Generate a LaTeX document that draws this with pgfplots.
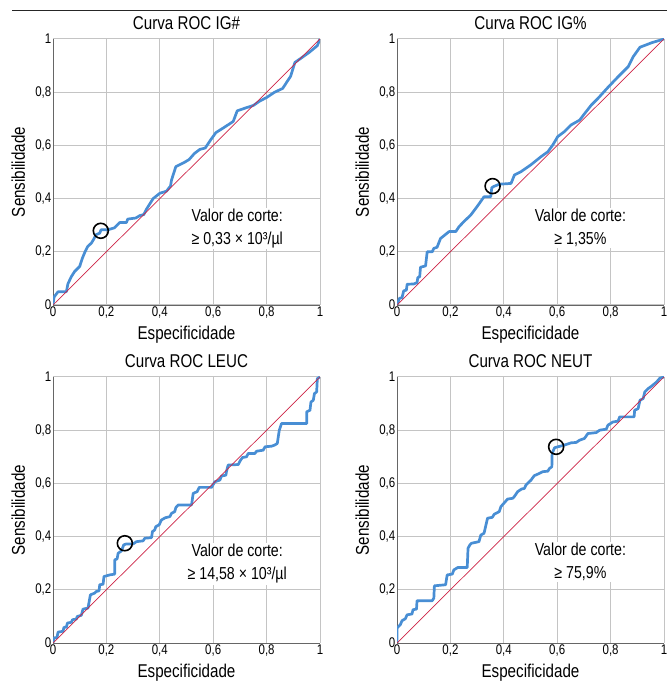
\documentclass[border=0pt]{standalone}
\usepackage{fontspec}
\setmainfont{Liberation Sans}[FakeStretch=0.82]
\usepackage{pgfplots}
\pgfplotsset{compat=1.18}

\definecolor{rocblue}{RGB}{72,142,212}
\definecolor{refred}{RGB}{205,35,70}
\definecolor{gridgray}{RGB}{196,196,196}

\tikzset{corte/.style={fill=white, align=center, inner sep=1pt, font=\fontsize{17.3}{23}\selectfont}}

\pgfplotsset{
  roc/.style={
    scale only axis, width=267pt, height=266pt,
    xmin=0, xmax=1, ymin=0, ymax=1,
    xtick={0,0.2,0.4,0.6,0.8,1}, ytick={0,0.2,0.4,0.6,0.8,1},
    axis lines=left,
    axis line style={-, draw=black!60, line width=0.9pt},
    grid=major,
    major grid style={gridgray, line width=1pt},
    major tick length=0pt,
    /pgf/number format/use comma,
    /pgf/number format/assume math mode=true,
    tick label style={font=\fontsize{14}{15}\selectfont, inner sep=1.5pt},
    title style={at={(axis description cs:0.5,1.015)}, anchor=base,
      font=\fontsize{18.5}{20}\selectfont},
    xlabel style={at={(axis description cs:0.5,-0.128)}, anchor=base,
      font=\fontsize{18.5}{20}\selectfont},
    ylabel style={at={(axis description cs:-0.105,0.5)}, anchor=base,
      font=\fontsize{18.5}{20}\selectfont},
    xlabel={Especificidade}, ylabel={Sensibilidade},
  },
  curve/.style={rocblue, line width=2.7pt, line join=round},
  diag/.style={refred, line width=0.7pt},
  cut/.style={only marks, mark=o, mark size=7.5pt, black, mark options={line width=1.6pt}},
}

\begin{document}
\begin{tikzpicture}
\path[use as bounding box] (0pt,0pt) rectangle (667pt,682pt);
\draw[line width=1.4pt, black!85] (12pt,671.3pt) -- (667pt,671.3pt);

% IG#
\begin{axis}[roc, at={(53pt,377pt)}, anchor=south west, title={Curva ROC IG\#}]
\addplot[curve] coordinates {
(0,0) (0.004,0.03) (0.019,0.05) (0.05,0.05) (0.056,0.08) (0.069,0.107)
(0.081,0.126) (0.1,0.145) (0.11,0.176) (0.12,0.2) (0.13,0.22) (0.144,0.233)
(0.154,0.25) (0.16,0.264) (0.175,0.27) (0.18,0.283) (0.206,0.283) (0.23,0.29)
(0.25,0.31) (0.275,0.31) (0.28,0.323) (0.31,0.327) (0.325,0.336) (0.34,0.34)
(0.35,0.36) (0.375,0.40) (0.4,0.42) (0.425,0.428) (0.44,0.447) (0.444,0.47)
(0.46,0.52) (0.49,0.535) (0.51,0.547) (0.53,0.57) (0.55,0.585) (0.57,0.59)
(0.59,0.62) (0.61,0.648) (0.64,0.667) (0.675,0.69) (0.69,0.73) (0.725,0.742)
(0.75,0.75) (0.775,0.767) (0.8,0.78) (0.83,0.8) (0.86,0.814) (0.89,0.86)
(0.906,0.912) (0.925,0.925) (0.96,0.95) (0.99,0.975) (1,1)
};
\addplot[diag] coordinates {(0,0) (1,1)};
\addplot[cut] coordinates {(0.179,0.279)};
\node[corte] at (axis cs:0.69,0.289) {Valor de corte:\\≥ 0,33 × 10³/µl};
\end{axis}

% IG%
\begin{axis}[roc, at={(397pt,377pt)}, anchor=south west, title={Curva ROC IG\%}]
\addplot[curve] coordinates {
(0,0) (0.009,0.025) (0.019,0.028) (0.025,0.053) (0.035,0.056) (0.038,0.078)
(0.063,0.079) (0.075,0.084) (0.078,0.103) (0.085,0.106) (0.088,0.142)
(0.107,0.147) (0.113,0.2) (0.132,0.2) (0.138,0.213) (0.15,0.217) (0.163,0.25)
(0.195,0.276) (0.22,0.276) (0.232,0.294) (0.25,0.313) (0.276,0.338) (0.3,0.37)
(0.326,0.407) (0.351,0.407) (0.355,0.441) (0.361,0.445) (0.383,0.454)
(0.427,0.457) (0.44,0.489) (0.464,0.501) (0.5,0.526) (0.54,0.558) (0.565,0.576)
(0.583,0.601) (0.602,0.633) (0.627,0.652) (0.652,0.677) (0.684,0.695)
(0.703,0.72) (0.728,0.752) (0.753,0.777) (0.79,0.818) (0.828,0.858)
(0.866,0.896) (0.885,0.934) (0.91,0.969) (0.954,0.986) (1,1)
};
\addplot[diag] coordinates {(0,0) (1,1)};
\addplot[cut] coordinates {(0.358,0.447)};
\node[corte] at (axis cs:0.687,0.289) {Valor de corte:\\≥ 1,35\%};
\end{axis}

% LEUC
\begin{axis}[roc, at={(53pt,39pt)}, anchor=south west, title={Curva ROC LEUC}]
\addplot[curve] coordinates {
(0,0) (0.004,0.019) (0.015,0.021) (0.019,0.041) (0.0375,0.044) (0.041,0.059)
(0.05,0.059) (0.054,0.075) (0.069,0.078) (0.073,0.0875) (0.0875,0.09)
(0.091,0.1) (0.106,0.104) (0.1125,0.1275) (0.131,0.131) (0.14,0.181)
(0.156,0.1875) (0.1625,0.194) (0.1725,0.196) (0.175,0.219) (0.1875,0.221)
(0.191,0.25) (0.2125,0.256) (0.231,0.259) (0.231,0.3125) (0.24,0.316)
(0.244,0.3375) (0.256,0.346) (0.265,0.369) (0.275,0.3725) (0.3,0.3725)
(0.3125,0.381) (0.3375,0.384) (0.344,0.394) (0.369,0.396) (0.3725,0.419)
(0.381,0.425) (0.385,0.4375) (0.3975,0.444) (0.406,0.4625) (0.421,0.471)
(0.4375,0.475) (0.444,0.4875) (0.456,0.494) (0.46,0.509) (0.469,0.519)
(0.519,0.519) (0.525,0.5625) (0.54,0.569) (0.5475,0.585) (0.594,0.585)
(0.6,0.596) (0.606,0.606) (0.625,0.6125) (0.631,0.6275) (0.6475,0.631)
(0.65,0.646) (0.656,0.669) (0.694,0.671) (0.7025,0.6875) (0.71,0.6975)
(0.725,0.7) (0.731,0.7125) (0.756,0.7125) (0.7625,0.721) (0.7875,0.725)
(0.794,0.7375) (0.819,0.74) (0.83,0.744) (0.84,0.75) (0.8475,0.8)
(0.856,0.825) (0.95,0.825) (0.95,0.869) (0.9625,0.875) (0.966,0.906)
(0.975,0.9125) (0.979,0.9375) (0.9875,0.944) (0.99,0.994) (1,1)
};
\addplot[diag] coordinates {(0,0) (1,1)};
\addplot[cut] coordinates {(0.269,0.375)};
\node[corte] at (axis cs:0.69,0.297) {Valor de corte:\\≥ 14,58 × 10³/µl};
\end{axis}

% NEUT
\begin{axis}[roc, at={(397pt,39pt)}, anchor=south west, title={Curva ROC NEUT}]
\addplot[curve] coordinates {
(0,0) (0,0.056) (0.0125,0.069) (0.019,0.084) (0.031,0.091) (0.038,0.106)
(0.056,0.109) (0.06,0.125) (0.073,0.1275) (0.075,0.159) (0.132,0.159)
(0.138,0.169) (0.14,0.215) (0.182,0.219) (0.188,0.256) (0.207,0.259)
(0.213,0.275) (0.228,0.284) (0.263,0.284) (0.266,0.356) (0.273,0.369)
(0.279,0.375) (0.307,0.381) (0.314,0.406) (0.326,0.4125) (0.339,0.469)
(0.357,0.4725) (0.364,0.484) (0.383,0.494) (0.389,0.5125) (0.4,0.525)
(0.414,0.541) (0.433,0.544) (0.439,0.55) (0.452,0.569) (0.467,0.579)
(0.477,0.581) (0.483,0.594) (0.502,0.6125) (0.514,0.629) (0.533,0.6375)
(0.546,0.644) (0.565,0.646) (0.571,0.656) (0.58,0.6625) (0.581,0.7125)
(0.59,0.734) (0.602,0.7375) (0.627,0.744) (0.652,0.7525) (0.671,0.754)
(0.684,0.7625) (0.702,0.769) (0.715,0.7875) (0.746,0.791) (0.759,0.8)
(0.784,0.804) (0.79,0.819) (0.809,0.831) (0.828,0.834) (0.834,0.85)
(0.888,0.85) (0.89,0.875) (0.903,0.881) (0.91,0.9125) (0.922,0.919)
(0.928,0.944) (0.94,0.956) (0.954,0.966) (0.972,0.981) (0.985,0.996) (1,1)
};
\addplot[diag] coordinates {(0,0) (1,1)};
\addplot[cut] coordinates {(0.596,0.7375)};
\node[corte] at (axis cs:0.687,0.305) {Valor de corte:\\≥ 75,9\%};
\end{axis}
\end{tikzpicture}
\end{document}
